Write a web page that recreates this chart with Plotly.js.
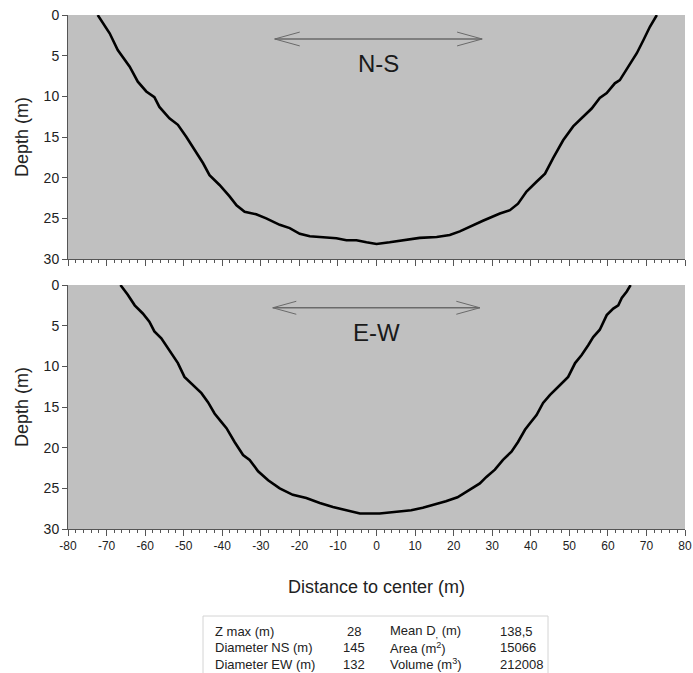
<!DOCTYPE html>
<html>
<head>
<meta charset="utf-8">
<script src="https://cdn.plot.ly/plotly-3.0.1.min.js"></script>
<style>html,body{margin:0;padding:0;background:#fff;}#chart{width:693px;height:673px;}</style>
</head>
<body>
<div id="chart"></div>
<script>
// ---- Data ----
const nsX = [-72.3,-69.2,-67.1,-64.0,-61.9,-59.7,-57.6,-56.3,-53.7,-51.5,-49.3,-47.2,-45.0,-43.3,-40.7,-38.1,-36.3,-34.2,-31.2,-28.6,-25.1,-22.5,-19.9,-17.3,-13.0,-10.4,-7.8,-5.2,-2.6,0,3.4,6.9,11.2,15.6,19.0,21.6,24.2,27.6,32.0,34.6,36.7,38.9,41.5,43.7,45.8,48.4,51.0,53.2,55.8,57.9,59.7,61.8,63.1,65.3,67.5,69.2,70.9,72.7];
const nsDepth = [0,2.25,4.3,6.35,8.2,9.4,10.1,11.3,12.7,13.5,15.0,16.6,18.2,19.7,20.9,22.3,23.4,24.2,24.5,25.0,25.8,26.2,26.9,27.2,27.3,27.45,27.7,27.7,27.95,28.15,27.95,27.7,27.4,27.3,27.05,26.6,26.0,25.3,24.4,24.0,23.2,21.7,20.5,19.5,17.6,15.4,13.7,12.7,11.5,10.2,9.6,8.4,8.0,6.35,4.7,3.1,1.45,0];

const ewX = [-66.4,-64.5,-62.7,-60.6,-58.9,-57.6,-55.8,-53.7,-51.5,-49.8,-47.6,-45.4,-43.7,-42.0,-40.3,-38.9,-36.8,-34.6,-32.9,-30.7,-28.1,-25.1,-21.7,-18.2,-14.7,-11.3,-7.8,-4.3,0.8,3,6,9,12,15,18,21,24,26.8,28.5,30.7,32.8,35.0,36.7,38.5,39.8,41.5,43.2,45.0,47.6,49.7,51.5,53.2,54.9,56.2,57.9,58.8,59.7,61.4,62.7,63.6,64.9,65.9];
const ewDepth = [0,1.2,2.5,3.5,4.5,5.7,6.55,8.0,9.6,11.3,12.3,13.3,14.4,15.8,16.8,17.6,19.3,20.9,21.5,22.9,24.0,25.0,25.8,26.2,26.8,27.3,27.7,28.1,28.1,28.0,27.9,27.7,27.4,27.0,26.6,26.1,25.2,24.4,23.6,22.7,21.5,20.5,19.3,17.8,17.0,16.0,14.5,13.5,12.3,11.3,9.6,8.6,7.4,6.4,5.5,4.5,3.7,2.9,2.5,1.6,0.8,0];

const xTickVals = [-80,-70,-60,-50,-40,-30,-20,-10,0,10,20,30,40,50,60,70,80];
const xTickText = ['-80','-70','-60','-50','-40','-30','-20','-10','0','10','20','30','40','50','60','70','80'];
const yTickVals = [0,5,10,15,20,25,30];

const panelLabels = ['N-S','E-W'];

const tabLabels1 = ['Z max (m)','Diameter NS (m)','Diameter EW (m)'];
const tabValues1 = ['28','145','132'];
const tabLabels2 = ['Mean D<sub>,</sub> (m)','Area (m<sup>2</sup>)','Volume (m<sup>3</sup>)'];
const tabValues2 = ['138,5','15066','212008'];

// ---- Layout helpers (pixel -> paper) ----
const W = 693, H = 673, ML = 68, MR = 8, MT = 15, MB = 144;
const PW = W - ML - MR, PH = H - MT - MB;
const px = v => (v - ML) / PW;
const py = v => 1 - (v - MT) / PH;

const FONT = 'Liberation Sans, Arial, sans-serif';
const AX = '#555555';

function xAxisCfg(showLabels, anchor) {
  return {
    range: [-80, 80], anchor: anchor, showgrid: false, zeroline: false,
    showline: true, linecolor: AX, linewidth: 1,
    tickmode: 'array', tickvals: xTickVals, ticktext: xTickText,
    ticks: 'outside', ticklen: 6, tickcolor: AX, tickwidth: 1,
    minor: {dtick: 2, ticks: 'outside', ticklen: 3, tickcolor: AX, tickwidth: 1, showgrid: false},
    showticklabels: showLabels,
    tickfont: {family: FONT, size: 12, color: '#222'}
  };
}
function yAxisCfg(domain, anchor) {
  return {
    range: [30, 0], domain: domain, anchor: anchor, showgrid: false, zeroline: false,
    showline: true, linecolor: AX, linewidth: 1,
    tickmode: 'array', tickvals: yTickVals,
    ticks: 'outside', ticklen: 5, tickcolor: AX, tickwidth: 1,
    tickfont: {family: FONT, size: 14, color: '#222'},
    title: {text: 'Depth (m)', font: {family: FONT, size: 18, color: '#222'}, standoff: 10}
  };
}

const traces = [
  {x: nsX, y: nsDepth, xaxis: 'x', yaxis: 'y', mode: 'lines', line: {color: '#000', width: 2.6}, hoverinfo: 'skip'},
  {x: ewX, y: ewDepth, xaxis: 'x2', yaxis: 'y2', mode: 'lines', line: {color: '#000', width: 2.6}, hoverinfo: 'skip'}
];

// arrows (decoration)
const arrowDefs = [
  {xr: 'x', yr: 'y', x0: -26.4, x1: 27.4, d: 2.95, bl: 6.5, bh: 0.85},
  {xr: 'x2', yr: 'y2', x0: -26.9, x1: 26.8, d: 2.8, bl: 6.1, bh: 0.8}
];
const shapes = [];
arrowDefs.forEach(a => {
  shapes.push({type: 'line', xref: a.xr, yref: a.yr, x0: a.x0, x1: a.x1, y0: a.d, y1: a.d, line: {color: '#6a6a6a', width: 1.6}});
  [[a.x0, 1], [a.x1, -1]].forEach(([tip, s]) => {
    [-1, 1].forEach(v => {
      shapes.push({type: 'line', xref: a.xr, yref: a.yr, x0: tip, y0: a.d, x1: tip + s * a.bl, y1: a.d + v * a.bh, line: {color: '#6a6a6a', width: 1}});
    });
  });
});
// table box
shapes.push({type: 'rect', xref: 'paper', yref: 'paper', x0: px(203), x1: px(548), y0: py(676), y1: py(616),
  line: {color: '#d4d4d4', width: 1}, fillcolor: '#ffffff', layer: 'below'});

const annotations = [
  {text: panelLabels[0], xref: 'x', yref: 'y', x: 0.4, y: 5.95, showarrow: false, font: {family: FONT, size: 24, color: '#1a1a1a'}},
  {text: panelLabels[1], xref: 'x2', yref: 'y2', x: 0, y: 5.8, showarrow: false, font: {family: FONT, size: 24, color: '#1a1a1a'}},
  {text: 'Distance to center (m)', xref: 'paper', yref: 'paper', x: px(376.5), y: py(587), xanchor: 'center', yanchor: 'middle', showarrow: false, font: {family: FONT, size: 18, color: '#222'}}
];
const rowY = [631, 647.5, 664];
const tf = {family: FONT, size: 13, color: '#222'};
rowY.forEach((yy, i) => {
  annotations.push({text: tabLabels1[i], xref: 'paper', yref: 'paper', x: px(213), y: py(yy), xanchor: 'left', yanchor: 'middle', showarrow: false, font: tf});
  annotations.push({text: tabValues1[i], xref: 'paper', yref: 'paper', x: px(354), y: py(yy), xanchor: 'center', yanchor: 'middle', showarrow: false, font: tf});
  annotations.push({text: tabLabels2[i], xref: 'paper', yref: 'paper', x: px(388), y: py(yy), xanchor: 'left', yanchor: 'middle', showarrow: false, font: tf});
  annotations.push({text: tabValues2[i], xref: 'paper', yref: 'paper', x: px(498), y: py(yy), xanchor: 'left', yanchor: 'middle', showarrow: false, font: tf});
});

const layout = {
  width: W, height: H,
  margin: {l: ML, r: MR, t: MT, b: MB, pad: 0},
  paper_bgcolor: '#ffffff', plot_bgcolor: '#c0c0c0',
  showlegend: false,
  font: {family: FONT, color: '#222'},
  xaxis: xAxisCfg(false, 'y'),
  yaxis: yAxisCfg([1 - 244 / PH, 1], 'x'),
  xaxis2: Object.assign(xAxisCfg(true, 'y2'), {matches: 'x'}),
  yaxis2: yAxisCfg([0, 244 / PH], 'x2'),
  shapes: shapes,
  annotations: annotations
};

Plotly.newPlot('chart', traces, layout, {displayModeBar: false, staticPlot: true});
</script>
</body>
</html>
